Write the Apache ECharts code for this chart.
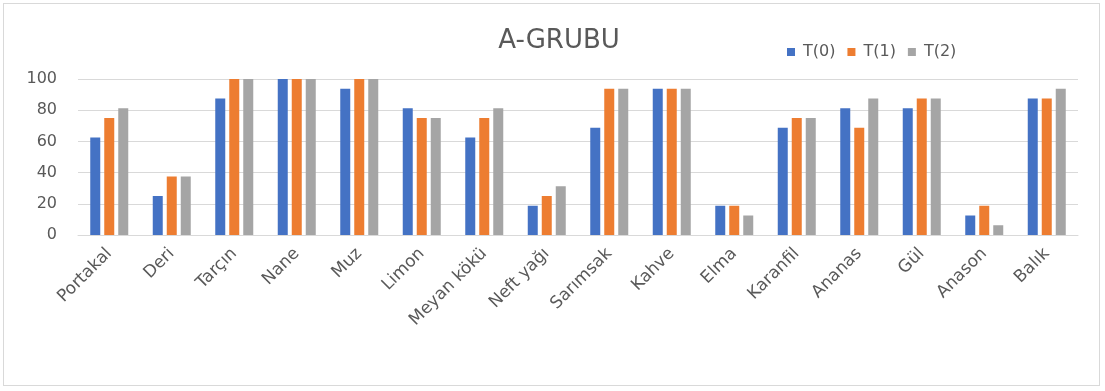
<!DOCTYPE html>
<html>
<head>
<meta charset="utf-8">
<script src="https://cdn.jsdelivr.net/npm/echarts@6/dist/echarts.min.js"></script>
<style>
  html, body { margin: 0; padding: 0; background: #ffffff; }
  #frame { position: absolute; left: 3px; top: 3px; width: 1097px; height: 383px; border: 1px solid #d9d9d9; box-sizing: border-box; }
  #chart { position: absolute; left: 0; top: 0; width: 1105px; height: 391px; }
</style>
</head>
<body>
<div id="frame"></div>
<div id="chart"></div>
<script>
const categories = ['Portakal', 'Deri', 'Tarçın', 'Nane', 'Muz', 'Limon', 'Meyan kökü', 'Neft yağı',
  'Sarımsak', 'Kahve', 'Elma', 'Karanfil', 'Ananas', 'Gül', 'Anason', 'Balık'];
const t0 = [62.5, 25, 87.5, 100, 93.75, 81.25, 62.5, 18.75, 68.75, 93.75, 18.75, 68.75, 81.25, 81.25, 12.5, 87.5];
const t1 = [75, 37.5, 100, 100, 100, 75, 75, 25, 93.75, 93.75, 18.75, 75, 68.75, 87.5, 18.75, 87.5];
const t2 = [81.25, 37.5, 100, 100, 100, 75, 81.25, 31.25, 93.75, 93.75, 12.5, 75, 87.5, 87.5, 6.25, 93.75];
const seriesNames = ['T(0)', 'T(1)', 'T(2)'];
const yTicks = [0, 20, 40, 60, 80, 100];

const colors = ['#4472C4', '#ED7D31', '#A5A5A5'];
const font = '"DejaVu Sans", "Open Sans", sans-serif';
const textColor = '#595959';

const chart = echarts.init(document.getElementById('chart'), null, { renderer: 'canvas' });
const option = {
  backgroundColor: 'transparent',
  animation: false,
  color: colors,
  title: {
    text: 'A-GRUBU',
    left: 554, top: 23, textAlign: 'center',
    textStyle: { fontFamily: font, fontSize: 26, fontWeight: 'normal', color: textColor }
  },
  legend: {
    data: seriesNames,
    left: 782, top: 39,
    itemWidth: 8, itemHeight: 8, itemGap: 12,
    icon: 'rect',
    textStyle: { fontFamily: font, fontSize: 16, color: textColor, padding: [0, 0, 0, 3] }
  },
  grid: { left: 78, right: 27, top: 79, bottom: 156, containLabel: false },
  xAxis: {
    type: 'category',
    data: categories,
    axisLine: { lineStyle: { color: '#d9d9d9' } },
    axisTick: { show: false },
    axisLabel: { rotate: 45, fontFamily: font, fontSize: 17, color: textColor, margin: 16, interval: 0 }
  },
  yAxis: {
    type: 'value',
    min: yTicks[0], max: yTicks[yTicks.length - 1], interval: 20,
    axisLine: { show: false },
    axisTick: { show: false },
    splitLine: { lineStyle: { color: '#d9d9d9' } },
    axisLabel: { fontFamily: font, fontSize: 16, color: textColor, margin: 21 }
  },
  series: [t0, t1, t2].map((d, i) => ({
    name: seriesNames[i],
    type: 'bar',
    data: d,
    barWidth: 10,
    barGap: '40%'
  }))
};
chart.setOption(option);
</script>
</body>
</html>
